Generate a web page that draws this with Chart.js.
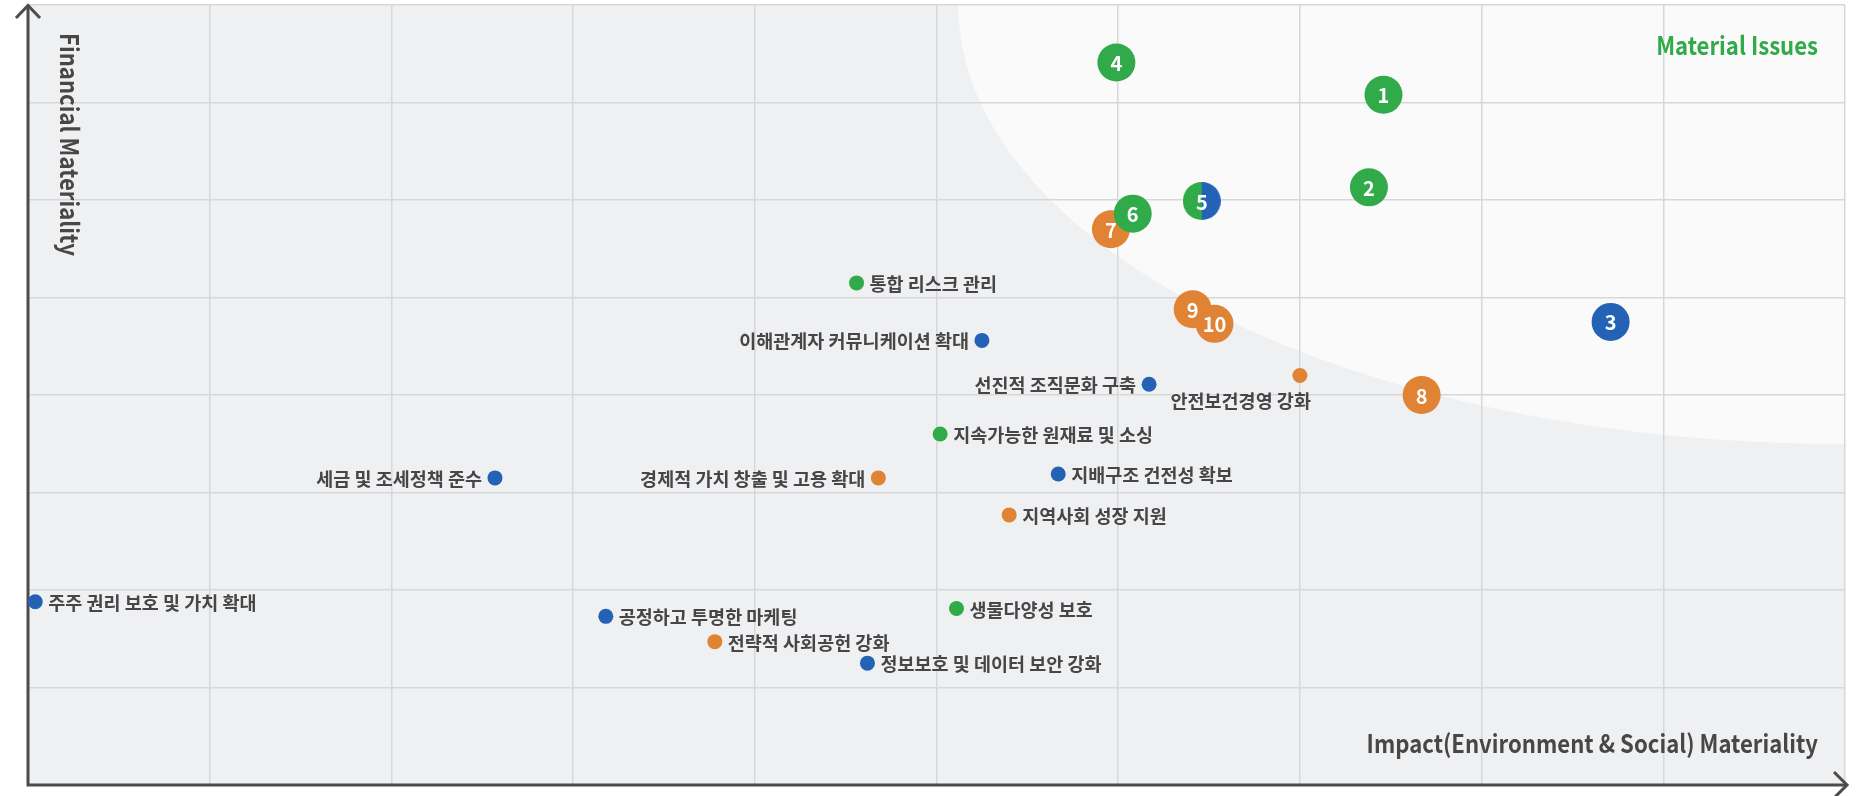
<!DOCTYPE html>
<html><head><meta charset="utf-8">
<script src="https://cdn.jsdelivr.net/npm/chart.js@4/dist/chart.umd.min.js"></script>
<style>
html,body{margin:0;padding:0;background:#fff;}
#wrap{width:1860px;height:796px;position:relative;}
canvas{display:block;}
</style></head>
<body><div id="wrap"><canvas id="c" width="1860" height="796"></canvas></div>
<script>
// ---- data ----
const xTicks = [0,1,2,3,4,5,6,7,8,9,10];
const yTicks = [0,1,2,3,4,5,6,7,8];

const issueNumbers = ['4','1','2','5','7','6','3','9','10','8'];
const issueX = [5.99, 7.46, 7.38, 6.46, 5.96, 6.08, 8.71, 6.41, 6.53, 7.67];
const issueY = [7.41, 7.08, 6.13, 5.99, 5.70, 5.86, 4.75, 4.88, 4.73, 4.00];
const issueColor = ['green','green','green','green-blue','orange','green','blue','orange','orange','orange'];

const otherLabels = ['통합 리스크 관리','이해관계자 커뮤니케이션 확대','선진적 조직문화 구축','안전보건경영 강화','지속가능한 원재료 및 소싱','세금 및 조세정책 준수','경제적 가치 창출 및 고용 확대','지배구조 건전성 확보','지역사회 성장 지원','주주 권리 보호 및 가치 확대','공정하고 투명한 마케팅','생물다양성 보호','전략적 사회공헌 강화','정보보호 및 데이터 보안 강화'];
const otherX = [4.56, 5.25, 6.17, 7.00, 5.02, 2.57, 4.68, 5.67, 5.40, 0.04, 3.18, 5.11, 3.78, 4.62];
const otherY = [5.15, 4.56, 4.11, 4.20, 3.60, 3.15, 3.15, 3.19, 2.77, 1.88, 1.73, 1.81, 1.47, 1.25];
const otherColor = ['green','blue','blue','orange','green','blue','orange','blue','orange','blue','blue','green','orange','blue'];
const otherLabelSide = ['right','left','left','below','right','left','left','right','right','right','right','right','right','right'];

const xTitle = 'Impact(Environment & Social) Materiality';
const yTitle = 'Financial Materiality';
const zoneTitle = 'Material Issues';

// ---- styles ----
const PALETTE = {green:'#31aa4a', blue:'#2462b5', orange:'#e08334'};
const FONT = "'Noto Sans CJK KR','Noto Sans',sans-serif";
const BUBBLE_R = 19, DOT_R = 7.5;

function splitCanvas(r, leftC, rightC){
  const cv = document.createElement('canvas');
  cv.width = r*2; cv.height = r*2;
  const g = cv.getContext('2d');
  g.fillStyle = leftC; g.beginPath(); g.moveTo(r,0); g.arc(r,r,r,-Math.PI/2,Math.PI/2,true); g.closePath(); g.fill();
  g.fillStyle = rightC; g.beginPath(); g.moveTo(r,0); g.arc(r,r,r,-Math.PI/2,Math.PI/2,false); g.closePath(); g.fill();
  return cv;
}
const split = splitCanvas(BUBBLE_R, PALETTE.green, PALETTE.blue);

function condensedText(ctx, text, x, y, align, sx){
  ctx.save();
  ctx.translate(x, y);
  ctx.scale(sx, 1);
  ctx.textAlign = align;
  ctx.fillText(text, 0, 0);
  ctx.restore();
}

const bgPlugin = {
  id:'bg',
  beforeDraw(chart){
    const {ctx, chartArea:a} = chart;
    ctx.save();
    ctx.fillStyle = '#eff0f2';
    ctx.fillRect(a.left, a.top, a.right-a.left, a.bottom-a.top);
    ctx.beginPath(); ctx.rect(a.left, a.top, a.right-a.left, a.bottom-a.top); ctx.clip();
    ctx.fillStyle = '#fafafa';
    ctx.beginPath();
    ctx.ellipse(a.right, a.top, (a.right-a.left)*0.488, (a.bottom-a.top)*0.563, 0, 0, Math.PI*2);
    ctx.fill();
    ctx.restore();
  },
  beforeDatasetsDraw(chart){
    const {ctx, chartArea:a} = chart;
    ctx.save();
    ctx.strokeStyle = '#4f4b4b'; ctx.lineWidth = 3; ctx.lineCap='butt'; ctx.lineJoin='miter';
    ctx.beginPath();
    ctx.moveTo(a.left, a.bottom+1.5); ctx.lineTo(a.left, a.top+1);
    ctx.moveTo(a.left-1.5, a.bottom); ctx.lineTo(a.right+2, a.bottom);
    ctx.stroke();
    ctx.beginPath();
    ctx.moveTo(a.left-12, a.top+13); ctx.lineTo(a.left, a.top+0.5); ctx.lineTo(a.left+12, a.top+13);
    ctx.moveTo(a.right-11, a.bottom-13); ctx.lineTo(a.right+2, a.bottom); ctx.lineTo(a.right-11, a.bottom+13);
    ctx.stroke();
    ctx.restore();
  },
  afterDatasetsDraw(chart){
    const {ctx, chartArea:a} = chart;
    ctx.save();
    // bubble numbers
    const m0 = chart.getDatasetMeta(0);
    ctx.fillStyle = '#ffffff';
    ctx.font = "bold 20px " + FONT;
    ctx.textAlign = 'center'; ctx.textBaseline = 'middle';
    m0.data.forEach((el,i)=>{ ctx.fillText(issueNumbers[i], el.x, el.y+1); });
    // dot labels
    const m1 = chart.getDatasetMeta(1);
    ctx.fillStyle = '#474545';
    ctx.font = "bold 18.5px " + FONT;
    m1.data.forEach((el,i)=>{
      const side = otherLabelSide[i];
      if (side==='right'){ ctx.textAlign='left'; ctx.textBaseline='middle'; ctx.fillText(otherLabels[i], el.x+13, el.y+1); }
      else if (side==='left'){ ctx.textAlign='right'; ctx.textBaseline='middle'; ctx.fillText(otherLabels[i], el.x-13, el.y+1); }
      else { ctx.textAlign='right'; ctx.textBaseline='middle'; ctx.fillText(otherLabels[i], el.x+11, el.y+25); }
    });
    // titles
    ctx.fillStyle = '#4a4646';
    ctx.font = "bold 25px " + FONT;
    ctx.textBaseline='alphabetic';
    condensedText(ctx, xTitle, a.right-27, a.bottom-32, 'right', 0.885);
    ctx.save();
    ctx.translate(a.left+32, a.top+28);
    ctx.rotate(Math.PI/2);
    condensedText(ctx, yTitle, 0, 0, 'left', 0.885);
    ctx.restore();
    ctx.fillStyle = PALETTE.green;
    ctx.textBaseline='middle';
    condensedText(ctx, zoneTitle, a.right-27, a.top+40, 'right', 0.885);
    ctx.restore();
  }
};

const chart = new Chart(document.getElementById('c'), {
  type:'scatter',
  data:{
    datasets:[
      {
        label:'material',
        data: issueX.map((x,i)=>({x:x, y:issueY[i]})),
        pointRadius: BUBBLE_R, pointHoverRadius: BUBBLE_R,
        pointBorderWidth: 0,
        pointBackgroundColor: issueColor.map(c=> c==='green-blue' ? PALETTE.green : PALETTE[c]),
        pointStyle: issueColor.map(c=> c==='green-blue' ? split : 'circle')
      },
      {
        label:'others',
        data: otherX.map((x,i)=>({x:x, y:otherY[i]})),
        pointRadius: DOT_R, pointHoverRadius: DOT_R,
        pointBorderWidth: 0,
        pointBackgroundColor: otherColor.map(c=>PALETTE[c])
      }
    ]
  },
  options:{
    responsive:false, animation:false, events:[],
    layout:{autoPadding:false, padding:{left:28, top:5, right:15, bottom:11}},
    plugins:{legend:{display:false}, tooltip:{enabled:false}},
    scales:{
      x:{type:'linear', min:xTicks[0], max:xTicks[xTicks.length-1],
         afterBuildTicks(s){ s.ticks = xTicks.map(v=>({value:v})); },
         ticks:{display:false}, grid:{color:'#d6d7d9', lineWidth:1.5, drawTicks:false}, border:{display:false}},
      y:{type:'linear', min:yTicks[0], max:yTicks[yTicks.length-1],
         afterBuildTicks(s){ s.ticks = yTicks.map(v=>({value:v})); },
         ticks:{display:false}, grid:{color:'#d6d7d9', lineWidth:1.5, drawTicks:false}, border:{display:false}}
    }
  },
  plugins:[bgPlugin]
});
</script>
</body></html>
